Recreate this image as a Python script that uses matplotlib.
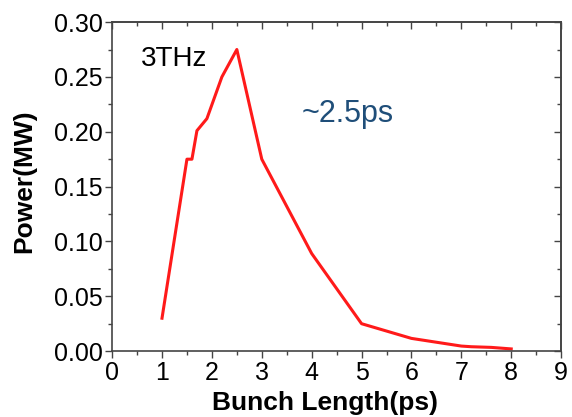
import matplotlib
matplotlib.use("Agg")
import matplotlib.pyplot as plt
from matplotlib.ticker import MultipleLocator

plt.rcParams['font.family'] = ['Liberation Sans', 'DejaVu Sans']

bunch_length = [1.0, 1.5, 1.6, 1.7, 1.9, 2.2, 2.5, 3.0, 4.0, 5.0, 6.0, 7.0, 7.2, 7.6, 8.0]
power = [0.030, 0.175, 0.175, 0.201, 0.212, 0.250, 0.275, 0.175, 0.089, 0.025, 0.0116, 0.0046, 0.004, 0.0034, 0.002]

x_ticks = [0, 1, 2, 3, 4, 5, 6, 7, 8, 9]
y_ticks = [0.00, 0.05, 0.10, 0.15, 0.20, 0.25, 0.30]

fig = plt.figure(figsize=(5.72, 4.17), dpi=100)
ax = fig.add_axes([0.196, 0.158, 0.785, 0.789])
ax.plot(bunch_length, power, color='#ff1a1a', lw=2.2)

ax.set_xlim(0, 9)
ax.set_ylim(0, 0.30)
ax.set_xticks(x_ticks)
ax.set_yticks(y_ticks)
ax.set_yticklabels([f"{v:.2f}" for v in y_ticks])
ax.xaxis.set_minor_locator(MultipleLocator(0.5))
ax.yaxis.set_minor_locator(MultipleLocator(0.025))
ax.tick_params(axis='both', which='major', direction='out', length=5, width=1, color='#444444', labelsize=18, pad=2)
ax.tick_params(axis='both', which='minor', direction='out', length=3, width=1, color='#444444')
# top and right inward ticks
axt = ax.secondary_xaxis('top')
axt.set_xticks(x_ticks)
axt.xaxis.set_minor_locator(MultipleLocator(0.5))
axt.tick_params(which='major', direction='in', length=5, width=1, color='#444444', labeltop=False)
axt.tick_params(which='minor', direction='in', length=3, width=1, color='#444444')
axt.set_xticklabels([])
axr = ax.secondary_yaxis('right')
axr.set_yticks(y_ticks)
axr.yaxis.set_minor_locator(MultipleLocator(0.025))
axr.tick_params(which='major', direction='in', length=5, width=1, color='#444444')
axr.tick_params(which='minor', direction='in', length=3, width=1, color='#444444')
axr.set_yticklabels([])
for a in (ax, axt, axr):
    for s in a.spines.values():
        s.set_color('#444444')
        s.set_linewidth(1.2)

ax.set_xlabel('Bunch Length(ps)', fontsize=19, fontweight='bold')
ax.xaxis.set_label_coords(0.475, -0.122, transform=ax.transAxes)
ax.xaxis.label.set_va('top')
ax.set_ylabel('Power(MW)', fontsize=19, fontweight='bold')
ax.yaxis.set_label_coords(-0.168, 0.515, transform=ax.transAxes)

ax.text(0.57, 0.2598, '3THz', fontsize=20, color='black', va='baseline')
ax.text(3.80, 0.2088, '~2.5ps', fontsize=22, color='#1f4e79', va='baseline')

fig.savefig('out.png', dpi=100)
